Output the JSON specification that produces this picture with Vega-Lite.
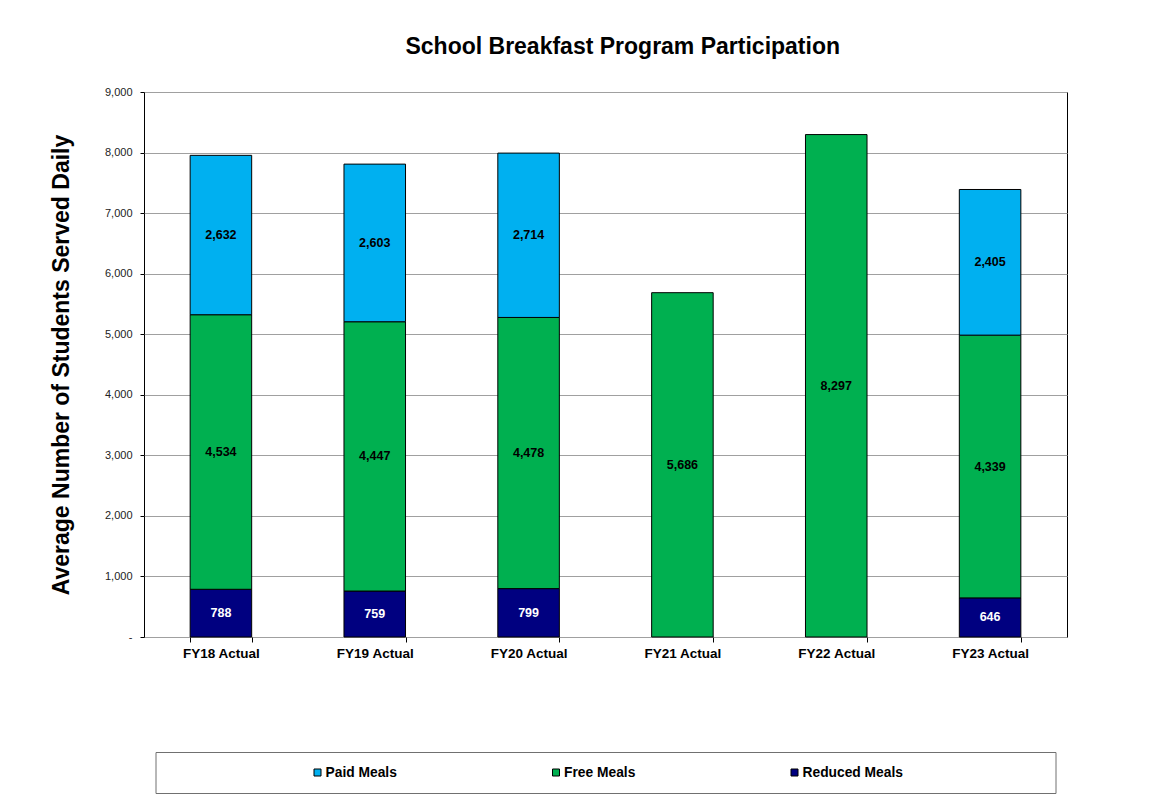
{
  "$schema": "https://vega.github.io/schema/vega-lite/v6.json",
  "background": "white",
  "padding": {"left": 49, "top": 35, "right": 5, "bottom": 5},
  "title": {
    "text": "School Breakfast Program Participation",
    "font": "Liberation Sans",
    "fontSize": 23,
    "fontWeight": "bold",
    "color": "black",
    "anchor": "middle",
    "frame": "bounds",
    "dx": 64,
    "offset": 27
  },
  "config": {
    "font": "Liberation Sans",
    "view": {"stroke": "black", "strokeWidth": 1},
    "axisY": {
      "titleFont": "Liberation Sans",
      "titleFontSize": 23,
      "titleFontWeight": "bold",
      "titleColor": "black",
      "titlePadding": 31,
      "labelFont": "Liberation Sans",
      "labelFontSize": 11,
      "labelColor": "#222222",
      "labelPadding": 8,
      "tickSize": 4,
      "tickColor": "black",
      "domain": false,
      "grid": true,
      "gridColor": "#a0a0a0",
      "gridWidth": 1
    }
  },
  "spacing": 115,
  "bounds": "flush",
  "center": true,
  "vconcat": [
    {
      "width": 923,
      "height": 545,
      "data": {
        "values": [
          {"year": "FY18 Actual", "series": "Reduced Meals", "value": 788},
          {"year": "FY18 Actual", "series": "Free Meals", "value": 4534},
          {"year": "FY18 Actual", "series": "Paid Meals", "value": 2632},
          {"year": "FY19 Actual", "series": "Reduced Meals", "value": 759},
          {"year": "FY19 Actual", "series": "Free Meals", "value": 4447},
          {"year": "FY19 Actual", "series": "Paid Meals", "value": 2603},
          {"year": "FY20 Actual", "series": "Reduced Meals", "value": 799},
          {"year": "FY20 Actual", "series": "Free Meals", "value": 4478},
          {"year": "FY20 Actual", "series": "Paid Meals", "value": 2714},
          {"year": "FY21 Actual", "series": "Free Meals", "value": 5686},
          {"year": "FY22 Actual", "series": "Free Meals", "value": 8297},
          {"year": "FY23 Actual", "series": "Reduced Meals", "value": 646},
          {"year": "FY23 Actual", "series": "Free Meals", "value": 4339},
          {"year": "FY23 Actual", "series": "Paid Meals", "value": 2405}
        ]
      },
      "transform": [
        {"window": [{"op": "row_number", "as": "stackIndex"}], "groupby": ["year"]}
      ],
      "encoding": {
        "x": {
          "field": "year",
          "type": "nominal",
          "sort": null,
          "scale": {"paddingInner": 0.6, "paddingOuter": 0.3},
          "axis": {
            "title": null,
            "labelAngle": 0,
            "labelFont": "Liberation Sans",
            "labelFontSize": 13.5,
            "labelFontWeight": "bold",
            "labelColor": "black",
            "labelPadding": 4,
            "tickSize": 5,
            "tickColor": "black",
            "tickBand": "extent",
            "domain": false,
            "grid": false
          }
        },
        "order": {"field": "stackIndex", "type": "quantitative", "sort": "ascending"}
      },
      "layer": [
        {
          "mark": {"type": "bar", "stroke": "black", "strokeWidth": 1},
          "encoding": {
            "y": {
              "field": "value",
              "type": "quantitative",
              "stack": "zero",
              "scale": {"domain": [0, 9000], "nice": false},
              "title": "Average Number of Students Served Daily",
              "axis": {
                "values": [0, 1000, 2000, 3000, 4000, 5000, 6000, 7000, 8000, 9000],
                "labelExpr": "datum.value === 0 ? '-' : format(datum.value, ',')"
              }
            },
            "color": {
              "field": "series",
              "type": "nominal",
              "scale": {"domain": ["Paid Meals", "Free Meals", "Reduced Meals"], "range": ["#00B0F0", "#00B050", "#000080"]},
              "legend": null
            }
          }
        },
        {
          "mark": {"type": "text", "fontWeight": "bold", "fontSize": 12.5, "font": "Liberation Sans", "baseline": "middle"},
          "encoding": {
            "y": {
              "field": "value",
              "type": "quantitative",
              "stack": "zero",
              "bandPosition": 0.5,
              "title": "Average Number of Students Served Daily",
              "axis": {
                "values": [0, 1000, 2000, 3000, 4000, 5000, 6000, 7000, 8000, 9000],
                "labelExpr": "datum.value === 0 ? '-' : format(datum.value, ',')"
              }
            },
            "detail": {"field": "series", "type": "nominal"},
            "text": {"field": "value", "type": "quantitative", "format": ","},
            "color": {
              "condition": {"test": "datum.series === 'Reduced Meals'", "value": "white"},
              "value": "black"
            }
          }
        }
      ]
    },
    {
      "width": 900,
      "height": 41,
      "view": {"stroke": "#707070"},
      "data": {
        "values": [
          {"series": "Paid Meals"},
          {"series": "Free Meals"},
          {"series": "Reduced Meals"}
        ]
      },
      "encoding": {
        "x": {
          "field": "series",
          "type": "nominal",
          "sort": null,
          "scale": {"type": "point", "range": [162, 639], "padding": 0},
          "axis": null
        }
      },
      "layer": [
        {
          "mark": {"type": "point", "shape": "square", "filled": true, "size": 49, "stroke": "black", "strokeWidth": 1, "opacity": 1},
          "encoding": {
            "color": {
              "field": "series",
              "type": "nominal",
              "scale": {"domain": ["Paid Meals", "Free Meals", "Reduced Meals"], "range": ["#00B0F0", "#00B050", "#000080"]},
              "legend": null
            }
          }
        },
        {
          "mark": {"type": "text", "align": "left", "dx": 8, "baseline": "middle", "fontWeight": "bold", "fontSize": 13.8, "font": "Liberation Sans", "color": "black"},
          "encoding": {
            "text": {"field": "series", "type": "nominal"}
          }
        }
      ]
    }
  ]
}
